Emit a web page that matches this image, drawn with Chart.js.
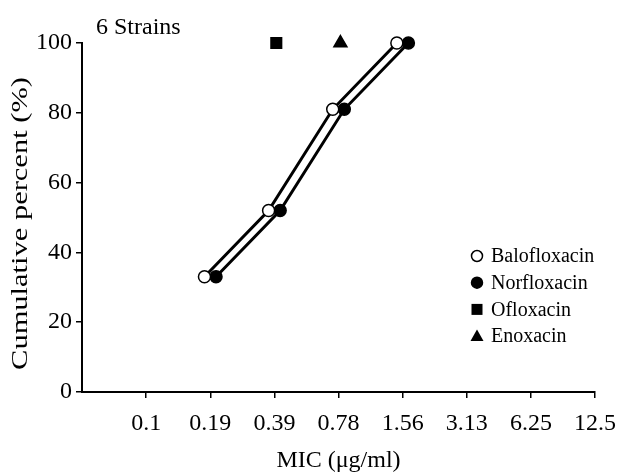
<!DOCTYPE html>
<html>
<head>
<meta charset="utf-8">
<script src="https://cdn.jsdelivr.net/npm/chart.js@4.4.0/dist/chart.umd.min.js"></script>
<style>
html, body { margin: 0; padding: 0; background: #fff; }
</style>
</head>
<body>
<canvas id="mic-chart" width="627" height="475"></canvas>
<script>
// values
var micLabels = ['0.1', '0.19', '0.39', '0.78', '1.56', '3.13', '6.25', '12.5']
var baloPct = [null, 33, 52, 81, 100, null, null, null]
var norPct = [null, 33, 52, 81, 100, null, null, null]
var oflPct = [null, null, 100, null, null, null, null, null]
var enoPct = [null, null, null, 100, null, null, null, null]
var strainsNote = '6 Strains'
var yTitle = 'Cumulative percent (%)'

var serif = "'Liberation Serif', 'Times New Roman', serif"

function toPoints(values, shift){
    var pts = []
    values.forEach(function(v, i){
        if (v !== null) pts.push({x: i + shift, y: v})
    })
    return pts
}

function drawMarker(ctx, style, fill, x, y){
    ctx.save()
    ctx.fillStyle = fill
    ctx.strokeStyle = '#000'
    ctx.lineWidth = 1.5
    ctx.beginPath()
    if (style === 'circle') {
        ctx.arc(x, y, 5.5, 0, Math.PI * 2)
        ctx.fill()
        ctx.stroke()
    } else if (style === 'rect') {
        ctx.fillStyle = '#000'
        ctx.fillRect(x - 5.5, y - 5.5, 11, 11)
    } else if (style === 'triangle') {
        ctx.fillStyle = '#000'
        ctx.moveTo(x, y - 6.5)
        ctx.lineTo(x + 6.5, y + 5)
        ctx.lineTo(x - 6.5, y + 5)
        ctx.closePath()
        ctx.fill()
    }
    ctx.restore()
}

// note in the corner, y title (printed stretched in the original) and the legend
const notesPlugin = {
    id: 'notes',
    afterDraw: function(chart){
        const ctx = chart.ctx
        const area = chart.chartArea
        ctx.save()
        ctx.fillStyle = '#000'
        ctx.textBaseline = 'middle'
        ctx.textAlign = 'left'
        ctx.font = '24px ' + serif
        ctx.fillText(strainsNote, 96, 28)

        ctx.save()
        ctx.translate(21, (area.top + area.bottom) / 2 + 6)
        ctx.rotate(-Math.PI / 2)
        ctx.scale(1.27, 1)
        ctx.textAlign = 'center'
        ctx.font = '24px ' + serif
        ctx.fillText(yTitle, 0, 0)
        ctx.restore()

        ctx.font = '20px ' + serif
        chart.data.datasets.forEach(function(ds, i){
            const y = 256 + i * 26.7
            drawMarker(ctx, ds.pointStyle, ds.pointBackgroundColor, 477, y)
            ctx.fillStyle = '#000'
            ctx.fillText(ds.label, 491, y + 1)
        })
        ctx.restore()
    }
}

const lineStyle = {
    borderColor: '#000',
    borderWidth: 3,
    pointBorderColor: '#000',
    pointBorderWidth: 1.5,
    clip: false
}

const data = {
    datasets: [
        Object.assign({
            label: 'Balofloxacin',
            data: toPoints(baloPct, -0.09),
            pointStyle: 'circle',
            pointBackgroundColor: '#fff',
            pointRadius: 6
        }, lineStyle),
        Object.assign({
            label: 'Norfloxacin',
            data: toPoints(norPct, 0.09),
            pointStyle: 'circle',
            pointBackgroundColor: '#000',
            pointRadius: 6
        }, lineStyle),
        Object.assign({
            label: 'Ofloxacin',
            data: toPoints(oflPct, 0.03),
            pointStyle: 'rect',
            pointBackgroundColor: '#000',
            pointRadius: 7.5,
            showLine: false
        }, lineStyle),
        Object.assign({
            label: 'Enoxacin',
            data: toPoints(enoPct, 0.03),
            pointStyle: 'triangle',
            pointBackgroundColor: '#000',
            pointRadius: 7.5,
            showLine: false
        }, lineStyle)
    ]
}

const config = {
    type: 'line',
    data: data,
    plugins: [notesPlugin],
    options: {
        responsive: false,
        animation: false,
        devicePixelRatio: 1,
        layout: {
            padding: {top: 43, right: 24, left: 0, bottom: 0}
        },
        plugins: {
            legend: {display: false},
            tooltip: {enabled: false}
        },
        scales: {
            x: {
                type: 'linear',
                min: -1,
                max: 7,
                afterBuildTicks: function(scale){
                    scale.ticks = scale.ticks.filter(function(t){ return t.value >= 0 })
                },
                afterFit: function(scale){
                    scale.height = 83
                },
                border: {display: true, color: '#000', width: 2},
                grid: {
                    drawOnChartArea: false,
                    drawTicks: true,
                    tickLength: 6,
                    color: '#000',
                    lineWidth: 1.5
                },
                ticks: {
                    stepSize: 1,
                    autoSkip: false,
                    maxRotation: 0,
                    padding: 11,
                    color: '#000',
                    font: {family: serif, size: 24},
                    callback: function(v){ return micLabels[v] }
                },
                title: {
                    display: true,
                    text: 'MIC (μg/ml)',
                    color: '#000',
                    padding: {top: 0, bottom: 0},
                    font: {family: serif, size: 24}
                }
            },
            y: {
                min: 0,
                max: 100,
                afterFit: function(scale){
                    scale.width = 82
                },
                border: {display: true, color: '#000', width: 2},
                grid: {
                    drawOnChartArea: false,
                    drawTicks: true,
                    tickLength: 6,
                    color: '#000',
                    lineWidth: 1.5
                },
                ticks: {
                    stepSize: 20,
                    padding: 4,
                    color: '#000',
                    font: {family: serif, size: 24}
                },
                title: {display: false}
            }
        }
    }
}

const micChart = new Chart(document.getElementById('mic-chart').getContext('2d'), config)
</script>
</body>
</html>
